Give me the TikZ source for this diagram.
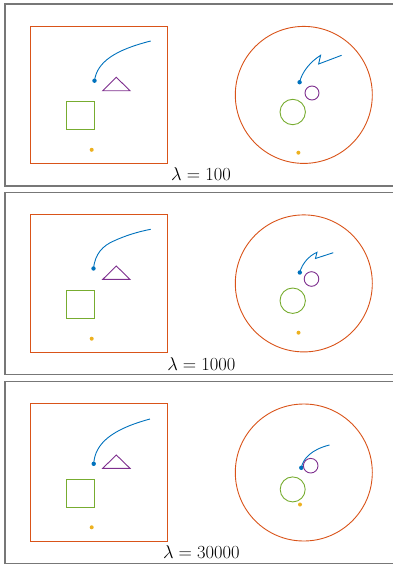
\RequirePackage{fix-cm}
\documentclass[tikz,border=0pt]{standalone}
\definecolor{mblue}{HTML}{0072BD}
\definecolor{morange}{HTML}{D95319}
\definecolor{myellow}{HTML}{EDB120}
\definecolor{mpurple}{HTML}{7E2F8E}
\definecolor{mgreen}{HTML}{77AC30}
\definecolor{framegray}{HTML}{777777}
\begin{document}
\begin{tikzpicture}[x=1pt,y=-1pt,
  frame/.style={draw=framegray,line width=1.2pt},
  region/.style={draw=morange,line width=0.9pt},
  path/.style={draw=mblue,line width=0.9pt,line join=miter},
  tri/.style={draw=mpurple,line width=0.9pt,line join=miter},
  obst/.style={draw=mgreen,line width=0.9pt},
  bluedot/.style={fill=mblue},
  golddot/.style={fill=myellow},
  lbl/.style={anchor=base,inner sep=0pt,font=\fontsize{18.5}{20}\selectfont}]
\useasboundingbox (0,0) rectangle (392,568);

% ---------- panel 1 ----------
\begin{scope}
  \draw[frame] (400,4) -- (5,4) -- (5,186) -- (400,186);
  \draw[region] (30,26) rectangle (167.3,163.7);
  \coordinate (s1) at (94.5,80.7);
  \coordinate (e1) at (150.7,41);
  \draw[path] (s1) .. controls (97,62) and (115,50) .. (e1);
  \fill[bluedot] (s1) circle (2.2pt);
  \draw[tri] (102.7,90.7) -- (130,90.7) -- (116.3,77.3) -- cycle;
  \draw[obst] (66.7,101.3) rectangle (94.7,129.3);
  \fill[golddot] (91.7,149.8) circle (2pt);
  \draw[region] (303.8,94.9) circle (68.5pt);
  \coordinate (c1) at (299.6,82.2);
  \coordinate (p1) at (320.6,55.3);
  \coordinate (k1) at (318.6,64);
  \coordinate (f1) at (341.6,55.3);
  \draw[path] (c1) .. controls (302,72) and (310,62) .. (p1) -- (k1) -- (f1);
  \fill[bluedot] (c1) circle (2.2pt);
  \draw[tri] (312,93) circle (7pt);
  \draw[obst] (292.7,112) circle (12.7pt);
  \fill[golddot] (298.4,152.7) circle (2pt);
  \node[lbl] (l1) at (201,180) {$\lambda = 100$};
\end{scope}

% ---------- panel 2 ----------
\begin{scope}[shift={(0,188.7)}]
  \draw[frame] (400,4) -- (5,4) -- (5,186) -- (400,186);
  \draw[region] (30,26) rectangle (167.3,163.7);
  \coordinate (s2) at (93.5,79.8);
  \coordinate (e2) at (150.7,40.6);
  \draw[path] (s2) .. controls (95,65) and (103,57) .. (113.3,52.5) .. controls (125,47) and (138,43) .. (e2);
  \fill[bluedot] (s2) circle (2.2pt);
  \draw[tri] (102.7,90.7) -- (130,90.7) -- (116.3,77.3) -- cycle;
  \draw[obst] (66.7,101.3) rectangle (94.7,129.3);
  \fill[golddot] (91.7,150) circle (2pt);
  \draw[region] (303.8,94.7) circle (68.5pt);
  \coordinate (c2) at (299.8,83.8);
  \coordinate (p2) at (317,63.6);
  \coordinate (k2) at (315.4,69.8);
  \coordinate (f2) at (333.3,64);
  \draw[path] (c2) .. controls (302,75) and (309,67) .. (p2) -- (k2) -- (f2);
  \fill[bluedot] (c2) circle (2.2pt);
  \draw[tri] (311.5,90.3) circle (7.3pt);
  \draw[obst] (292.7,112) circle (12.7pt);
  \fill[golddot] (298.5,144) circle (2pt);
  \node[lbl] (l2) at (201.3,181.3) {$\lambda = 1000$};
\end{scope}

% ---------- panel 3 ----------
\begin{scope}[shift={(0,377.3)}]
  \draw[frame] (400,4) -- (5,4) -- (5,186) -- (400,186);
  \draw[region] (30,26) rectangle (167.3,163.7);
  \coordinate (s3) at (93.7,86.5);
  \coordinate (e3) at (150,41.7);
  \draw[path] (s3) .. controls (95,66) and (112,52) .. (e3);
  \fill[bluedot] (s3) circle (2.2pt);
  \draw[tri] (102.7,91) -- (130,91) -- (116.3,77.7) -- cycle;
  \draw[obst] (66.7,102) rectangle (94.7,129.7);
  \fill[golddot] (91.7,150) circle (2pt);
  \draw[region] (303.8,95.2) circle (68.5pt);
  \coordinate (c3) at (301.3,90.5);
  \coordinate (f3) at (329.5,67.7);
  \draw[path] (c3) .. controls (303,81) and (312,72) .. (f3);
  \fill[bluedot] (c3) circle (2.2pt);
  \draw[tri] (310.7,88.4) circle (7.3pt);
  \draw[obst] (292.7,112.1) circle (12.5pt);
  \fill[golddot] (300,127.2) circle (2pt);
  \node[lbl] (l3) at (201.3,181) {$\lambda = 30000$};
\end{scope}
\end{tikzpicture}
\end{document}
